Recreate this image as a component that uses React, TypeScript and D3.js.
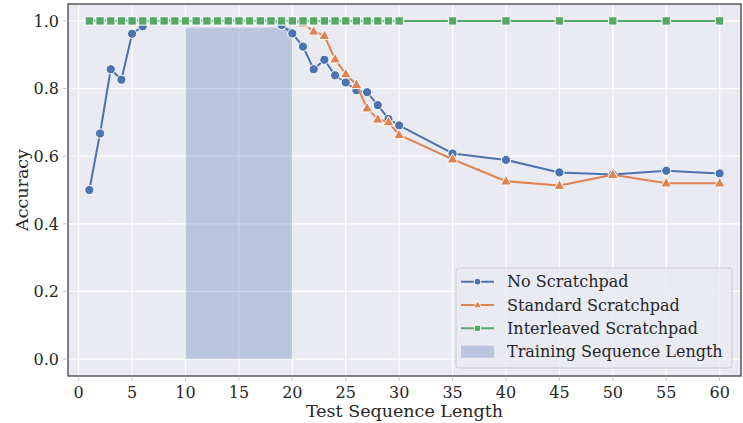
import React from "react";
import * as d3 from "d3";

// test lengths shared by all three runs
const lengths = [
  1, 2, 3, 4, 5, 6, 7, 8, 9, 10, 11, 12, 13, 14, 15, 16, 17, 18, 19, 20,
  21, 22, 23, 24, 25, 26, 27, 28, 29, 30, 35, 40, 45, 50, 55, 60,
];

const noScratchpad = [
  0.5, 0.667, 0.857, 0.826, 0.962, 0.984, 1, 1, 1, 1, 1, 1, 1, 1, 1, 1, 1, 1, 0.988, 0.963,
  0.924, 0.857, 0.885, 0.839, 0.818, 0.795, 0.789, 0.751, 0.71, 0.691, 0.608, 0.589, 0.552, 0.546, 0.557, 0.549,
];

const standardScratchpad = [
  1, 1, 1, 1, 1, 1, 1, 1, 1, 1, 1, 1, 1, 1, 1, 1, 1, 1, 1, 1,
  0.993, 0.969, 0.956, 0.887, 0.843, 0.811, 0.742, 0.709, 0.701, 0.663, 0.591, 0.526, 0.513, 0.545, 0.52, 0.52,
];

const interleavedScratchpad = [
  1, 1, 1, 1, 1, 1, 1, 1, 1, 1, 1, 1, 1, 1, 1, 1, 1, 1, 1, 1,
  1, 1, 1, 1, 1, 1, 1, 1, 1, 1, 1, 1, 1, 1, 1, 1,
];

const trainRange = [10, 20];
const trainTop = 0.98;

const xTicks = [0, 5, 10, 15, 20, 25, 30, 35, 40, 45, 50, 55, 60];
const yTicks = [0, 0.2, 0.4, 0.6, 0.8, 1.0];

const seriesNames = ["No Scratchpad", "Standard Scratchpad", "Interleaved Scratchpad"];
const spanName = "Training Sequence Length";

const FONT = "'DejaVu Serif', serif";
const colors = ["#4C72B0", "#DD8452", "#55A868"];
const shapes = ["circle", "triangle", "square"];

const W = 743, H = 423;
const left = 68, right = 741, top = 4, bottom = 376;

function Marker({ shape, x, y, color, s }: any) {
  if (shape === "circle") {
    return <circle cx={x} cy={y} r={4.6 * s} fill={color} stroke="#fff" strokeWidth={1} />;
  }
  if (shape === "square") {
    const h = 4.2 * s;
    return <rect x={x - h} y={y - h} width={2 * h} height={2 * h} fill={color} stroke="#fff" strokeWidth={1} />;
  }
  const r = 5.8 * s;
  const p = `M${x},${y - r} L${x + r * 0.95},${y + r * 0.65} L${x - r * 0.95},${y + r * 0.65} Z`;
  return <path d={p} fill={color} stroke="#fff" strokeWidth={1} />;
}

export default function App() {
  const x = d3.scaleLinear().domain([-1, 62]).range([left, right]);
  const y = d3.scaleLinear().domain([-0.05, 1.05]).range([bottom, top]);

  const line = d3
    .line<[number, number]>()
    .x((d) => x(d[0]))
    .y((d) => y(d[1]));

  const allSeries = [noScratchpad, standardScratchpad, interleavedScratchpad];

  const legX = 456, legY = 268, legW = 276, legH = 100;
  const rowY = [281.7, 305, 328.3, 351.7];

  return (
    <svg width={W} height={H} style={{ position: "absolute", left: 0, top: 0, background: "#fff" }} fontFamily={FONT}>
      <rect x={left} y={top} width={right - left} height={bottom - top} fill="#EAEAF2" />

      {/* grid */}
      {xTicks.map((t) => (
        <line key={"gx" + t} x1={x(t)} x2={x(t)} y1={top} y2={bottom} stroke="#fff" strokeWidth={1.25} />
      ))}
      {yTicks.map((t) => (
        <line key={"gy" + t} x1={left} x2={right} y1={y(t)} y2={y(t)} stroke="#fff" strokeWidth={1.25} />
      ))}

      {/* training span */}
      <rect
        x={x(trainRange[0])}
        y={y(trainTop)}
        width={x(trainRange[1]) - x(trainRange[0])}
        height={y(0) - y(trainTop)}
        fill="#4C72B0"
        fillOpacity={0.3}
      />

      {allSeries.map((vals, i) => {
        const pts = lengths.map((l, j) => [l, vals[j]] as [number, number]);
        return (
          <g key={"s" + i}>
            <path d={line(pts) || ""} fill="none" stroke={colors[i]} strokeWidth={2} strokeLinejoin="round" />
            {pts.map((p, j) => (
              <Marker key={j} shape={shapes[i]} x={x(p[0])} y={y(p[1])} color={colors[i]} s={1} />
            ))}
          </g>
        );
      })}

      {/* spines */}
      <rect x={left} y={top} width={right - left} height={bottom - top} fill="none" stroke="#3a3a3a" strokeWidth={1.25} />

      {/* ticks */}
      {xTicks.map((t) => (
        <g key={"tx" + t}>
          <line x1={x(t)} x2={x(t)} y1={bottom + 0.6} y2={bottom + 5} stroke="#cccccc" strokeWidth={1} />
          <text x={x(t)} y={398} textAnchor="middle" fontSize={16} fill="#262626">
            {t}
          </text>
        </g>
      ))}
      {yTicks.map((t) => (
        <g key={"ty" + t}>
          <line x1={left - 5} x2={left - 0.6} y1={y(t)} y2={y(t)} stroke="#cccccc" strokeWidth={1} />
          <text x={59} y={y(t) + 5.8} textAnchor="end" fontSize={16} fill="#262626">
            {t.toFixed(1)}
          </text>
        </g>
      ))}

      <text x={(left + right) / 2} y={417} textAnchor="middle" fontSize={17.5} fill="#262626">
        Test Sequence Length
      </text>
      <text transform={`translate(28,${(top + bottom) / 2}) rotate(-90)`} textAnchor="middle" fontSize={17.5} fill="#262626">
        Accuracy
      </text>

      {/* legend */}
      <rect x={legX} y={legY} width={legW} height={legH} rx={3} fill="#EAEAF2" fillOpacity={0.8} stroke="#cccccc" strokeWidth={1} />
      {seriesNames.map((name, i) => (
        <g key={"l" + i}>
          <line x1={461} x2={494} y1={rowY[i]} y2={rowY[i]} stroke={colors[i]} strokeWidth={2} />
          <Marker shape={shapes[i]} x={477.5} y={rowY[i]} color={colors[i]} s={0.75} />
          <text x={507} y={rowY[i] + 5.6} fontSize={16} fill="#262626">
            {name}
          </text>
        </g>
      ))}
      <rect x={461} y={rowY[3] - 6} width={33} height={12} fill="#4C72B0" fillOpacity={0.3} />
      <text x={507} y={rowY[3] + 5.6} fontSize={16} fill="#262626">
        {spanName}
      </text>
    </svg>
  );
}
